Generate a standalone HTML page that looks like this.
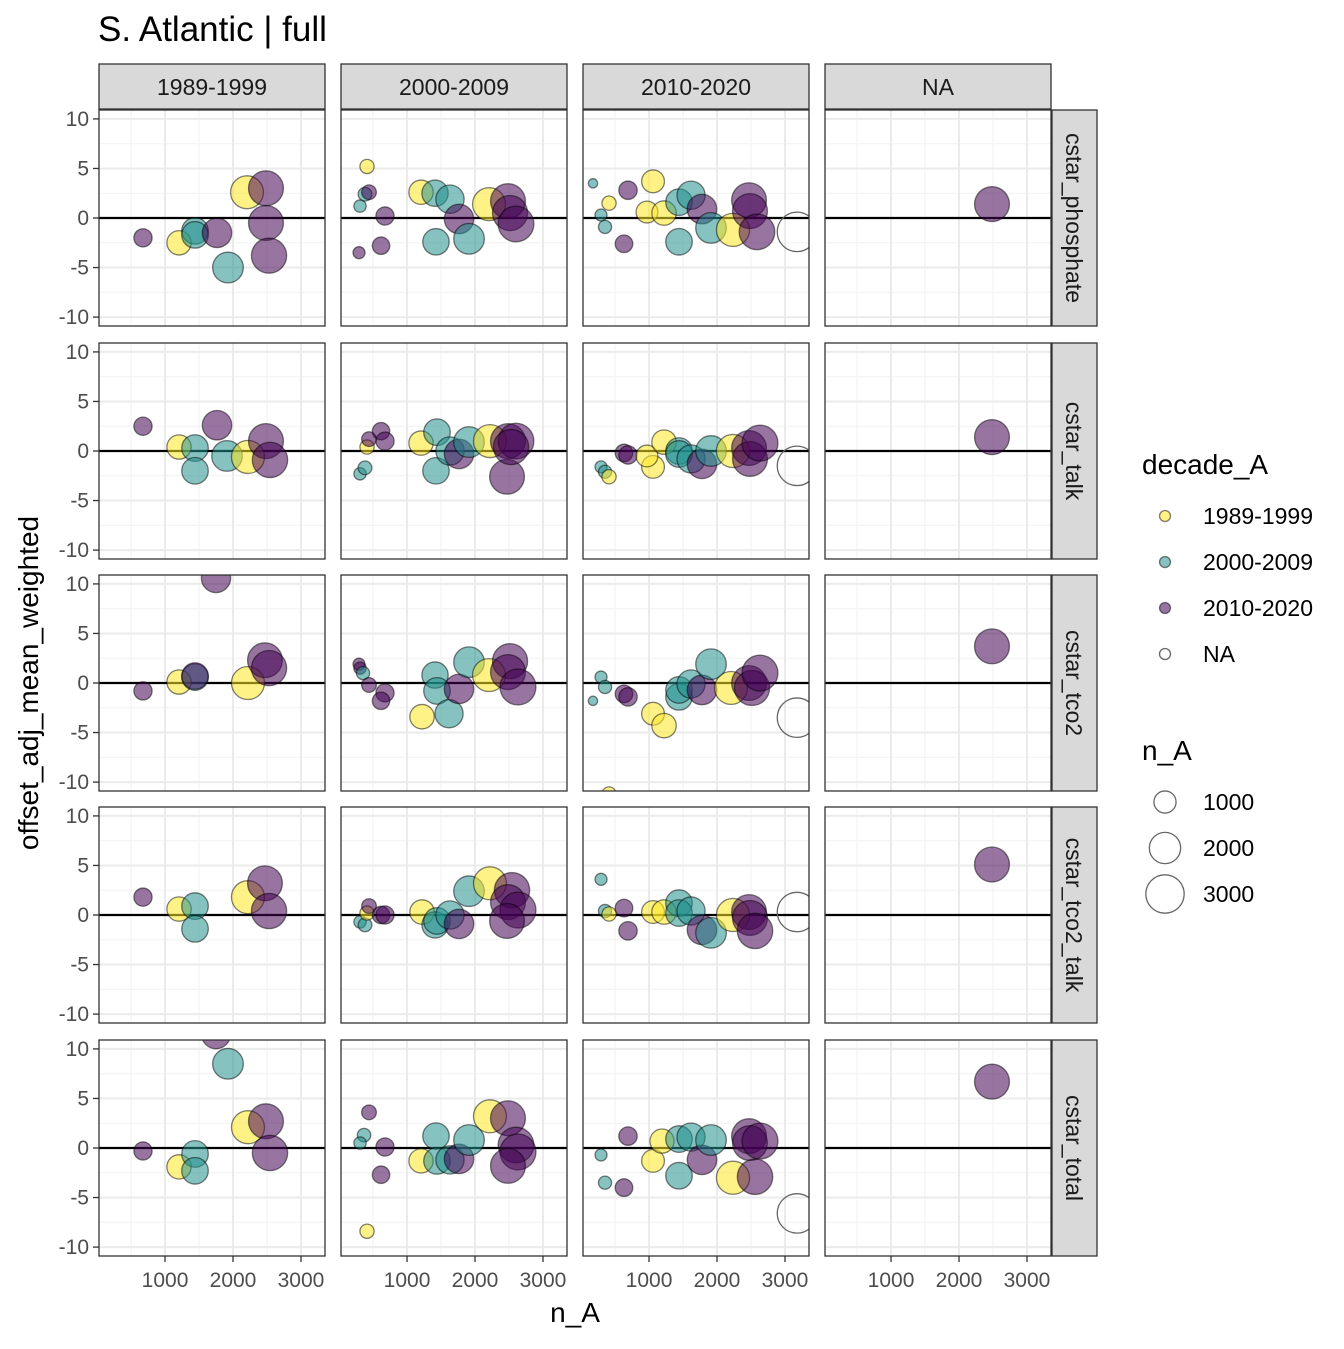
<!DOCTYPE html>
<html><head><meta charset="utf-8"><style>
body{margin:0;background:#fff}
svg text{font-family:"Liberation Sans",sans-serif}
</style></head><body>
<svg id="c" width="1344" height="1344" xmlns="http://www.w3.org/2000/svg">
<rect width="1344" height="1344" fill="#fff"/>
<text x="98" y="41" font-size="35" fill="#000">S. Atlantic | full</text>
</svg>
<script>
const colLabels=["1989-1999","2000-2009","2010-2020","NA"];
const rowLabels=["cstar_phosphate","cstar_talk","cstar_tco2","cstar_tco2_talk","cstar_total"];
const xTicks=[1000,2000,3000];
const yTicks=[-10,-5,0,5,10];
const decades=["1989-1999","2000-2009","2010-2020","NA"];
const sizeBreaks=[1000,2000,3000];
// points: [row, col, n_A, offset, decadeIndex]
const points=[
[0,0,676,-2.0,2],[0,0,1206,-2.5,0],[0,0,1441,-1.3,1],[0,0,1441,-1.7,1],[0,0,1765,-1.5,2],[0,0,1926,-5.0,1],[0,0,2206,2.6,0],[0,0,2485,3.0,2],[0,0,2485,-0.5,2],[0,0,2530,-3.8,2],
[0,1,412,5.2,0],[0,1,309,1.2,1],[0,1,382,2.4,1],[0,1,441,2.6,2],[0,1,294,-3.5,2],[0,1,676,0.2,2],[0,1,618,-2.8,2],[0,1,1206,2.6,0],[0,1,1412,2.5,1],[0,1,1632,1.9,1],[0,1,1426,-2.4,1],[0,1,1765,-0.1,2],[0,1,1912,-2.1,1],[0,1,2206,1.4,0],[0,1,2485,1.7,2],[0,1,2515,0.5,2],[0,1,2603,-0.6,2],
[0,2,176,3.5,1],[0,2,294,0.3,1],[0,2,353,-0.9,1],[0,2,412,1.5,0],[0,2,632,-2.6,2],[0,2,691,2.8,2],[0,2,1059,3.7,0],[0,2,970,0.6,0],[0,2,1221,0.5,0],[0,2,1441,-2.4,1],[0,2,1441,1.6,1],[0,2,1618,2.3,1],[0,2,1779,0.9,2],[0,2,1912,-1.0,1],[0,2,2235,-1.2,0],[0,2,2471,1.8,2],[0,2,2485,0.7,2],[0,2,2588,-1.4,2],[0,2,3176,-1.4,3],
[0,3,2485,1.4,2],
[1,0,676,2.5,2],[1,0,1206,0.4,0],[1,0,1441,0.3,1],[1,0,1441,-2.0,1],[1,0,1765,2.6,2],[1,0,1912,-0.5,1],[1,0,2220,-0.6,0],[1,0,2485,1.0,2],[1,0,2544,-0.9,2],
[1,1,309,-2.3,1],[1,1,382,-1.7,1],[1,1,412,0.4,0],[1,1,441,1.2,2],[1,1,618,2.0,2],[1,1,676,1.0,2],[1,1,1206,0.8,0],[1,1,1441,1.9,1],[1,1,1426,-2.0,1],[1,1,1632,0.0,1],[1,1,1765,-0.3,2],[1,1,1912,0.9,1],[1,1,2220,1.0,0],[1,1,2485,1.0,2],[1,1,2603,1.0,2],[1,1,2471,-2.6,2],[1,1,2530,0.4,2],
[1,2,294,-1.6,1],[1,2,353,-2.1,1],[1,2,412,-2.6,0],[1,2,632,-0.2,2],[1,2,691,-0.4,2],[1,2,1059,-1.6,0],[1,2,970,-0.5,0],[1,2,1221,0.9,0],[1,2,1441,0.0,1],[1,2,1441,-0.3,1],[1,2,1618,-0.8,1],[1,2,1779,-1.3,2],[1,2,1912,0.0,1],[1,2,2235,0.0,0],[1,2,2471,0.3,2],[1,2,2485,-0.8,2],[1,2,2632,0.8,2],[1,2,3176,-1.5,3],
[1,3,2485,1.4,2],
[2,0,676,-0.8,2],[2,0,1206,0.1,0],[2,0,1441,0.6,1],[2,0,1441,0.7,2],[2,0,1750,10.6,2],[2,0,2220,0.0,0],[2,0,2470,2.3,2],[2,0,2530,1.5,2],
[2,1,294,1.9,2],[2,1,309,1.5,2],[2,1,353,1.0,1],[2,1,441,-0.2,2],[2,1,676,-1.0,2],[2,1,618,-1.8,2],[2,1,1221,-3.4,0],[2,1,1412,0.8,1],[2,1,1441,-0.8,1],[2,1,1618,-3.1,1],[2,1,1765,-0.6,2],[2,1,1912,2.1,1],[2,1,2206,0.8,0],[2,1,2515,2.2,2],[2,1,2485,1.1,2],[2,1,2632,-0.4,2],
[2,2,176,-1.8,1],[2,2,294,0.6,1],[2,2,353,-0.4,1],[2,2,412,-11.2,0],[2,2,632,-1.1,2],[2,2,691,-1.4,2],[2,2,1059,-3.1,0],[2,2,1221,-4.3,0],[2,2,1441,-1.4,1],[2,2,1441,-0.7,1],[2,2,1618,-0.1,1],[2,2,1779,-0.7,2],[2,2,1912,1.9,1],[2,2,2206,-0.5,0],[2,2,2471,0.0,2],[2,2,2515,-0.5,2],[2,2,2632,1.0,2],[2,2,3176,-3.5,3],
[2,3,2485,3.7,2],
[3,0,676,1.8,2],[3,0,1206,0.6,0],[3,0,1441,0.9,1],[3,0,1441,-1.4,1],[3,0,2220,1.8,0],[3,0,2470,3.2,2],[3,0,2530,0.4,2],
[3,1,309,-0.7,1],[3,1,382,-1.0,1],[3,1,412,0.2,0],[3,1,441,0.9,2],[3,1,618,0.0,2],[3,1,676,0.0,2],[3,1,1221,0.3,0],[3,1,1412,-1.0,1],[3,1,1441,-0.6,1],[3,1,1632,0.0,1],[3,1,1765,-0.9,2],[3,1,1912,2.4,1],[3,1,2220,3.2,0],[3,1,2544,2.5,2],[3,1,2485,1.3,2],[3,1,2632,0.5,2],[3,1,2471,-0.6,2],
[3,2,294,3.6,1],[3,2,353,0.4,1],[3,2,412,0.1,0],[3,2,632,0.7,2],[3,2,691,-1.6,2],[3,2,1059,0.3,0],[3,2,1221,0.3,0],[3,2,1441,1.2,1],[3,2,1441,0.2,1],[3,2,1618,0.4,1],[3,2,1779,-1.5,2],[3,2,1912,-1.8,1],[3,2,2235,0.0,0],[3,2,2471,0.3,2],[3,2,2485,-0.3,2],[3,2,2559,-1.6,2],[3,2,3176,0.3,3],
[3,3,2485,5.1,2],
[4,0,676,-0.3,2],[4,0,1206,-1.9,0],[4,0,1441,-0.6,1],[4,0,1441,-2.3,1],[4,0,1750,11.5,2],[4,0,1926,8.5,1],[4,0,2220,2.1,0],[4,0,2485,2.7,2],[4,0,2544,-0.5,2],
[4,1,412,-8.4,0],[4,1,441,3.6,2],[4,1,368,1.3,1],[4,1,309,0.5,1],[4,1,676,0.1,2],[4,1,618,-2.7,2],[4,1,1206,-1.3,0],[4,1,1426,1.2,1],[4,1,1441,-1.3,1],[4,1,1632,-1.2,1],[4,1,1765,-1.1,2],[4,1,1912,0.8,1],[4,1,2220,3.2,0],[4,1,2485,3.0,2],[4,1,2603,0.3,2],[4,1,2632,-0.4,2],[4,1,2485,-1.8,2],
[4,2,294,-0.7,1],[4,2,353,-3.5,1],[4,2,632,-4.0,2],[4,2,691,1.2,2],[4,2,1059,-1.3,0],[4,2,1191,0.7,0],[4,2,1441,-2.8,1],[4,2,1441,0.9,1],[4,2,1618,1.1,1],[4,2,1779,-1.2,2],[4,2,1912,0.8,1],[4,2,2235,-3.0,0],[4,2,2471,1.2,2],[4,2,2485,0.5,2],[4,2,2632,0.7,2],[4,2,2559,-2.9,2],[4,2,3176,-6.6,3],
[4,3,2485,6.7,2]
];
const NS="http://www.w3.org/2000/svg",svg=document.getElementById('c');
function el(t,a,p){const e=document.createElementNS(NS,t);for(const k in a)e.setAttribute(k,a[k]);(p||svg).appendChild(e);return e;}
const colX=[99,341,583,825],pw=226,rowY=[110,343,575,807,1040],ph=216;
const xMin=29,xMax=3353,yMin=-10.9,yMax=10.9;
const fills=["#FDE725","#21908C","#440154","none"];
function xs(c,v){return colX[c]+(v-xMin)/(xMax-xMin)*pw;}
function ys(r,v){return rowY[r]+(yMax-v)/(yMax-yMin)*ph;}
function rad(n){return 0.35*Math.sqrt(n);}
for(let r=0;r<5;r++)for(let c=0;c<4;c++){
 const g=el('g',{});
 
 
 el('rect',{x:colX[c],y:rowY[r],width:pw,height:ph,fill:'#fff'},g);
 const cp=el('clipPath',{id:'cp'+r+c},g);el('rect',{x:colX[c],y:rowY[r],width:pw,height:ph},cp);
 [500,1500,2500].forEach(v=>el('line',{x1:xs(c,v),x2:xs(c,v),y1:rowY[r],y2:rowY[r]+ph,stroke:'#f2f2f2','stroke-width':1},g));
 [-7.5,-2.5,2.5,7.5].forEach(v=>el('line',{x1:colX[c],x2:colX[c]+pw,y1:ys(r,v),y2:ys(r,v),stroke:'#f2f2f2','stroke-width':1},g));
 xTicks.forEach(v=>el('line',{x1:xs(c,v),x2:xs(c,v),y1:rowY[r],y2:rowY[r]+ph,stroke:'#ebebeb','stroke-width':2},g));
 yTicks.forEach(v=>el('line',{x1:colX[c],x2:colX[c]+pw,y1:ys(r,v),y2:ys(r,v),stroke:'#ebebeb','stroke-width':2},g));
 const z=el('line',{x1:colX[c],x2:colX[c]+pw,y1:ys(r,0),y2:ys(r,0),stroke:'#000','stroke-width':2.2},g);
 
 const pg=el('g',{'clip-path':'url(#cp'+r+c+')'},g);
 points.filter(p=>p[0]===r&&p[1]===c).forEach(p=>{
  const d=p[4];
  const ci=el('circle',{cx:xs(c,p[2]),cy:ys(r,p[3]),r:rad(p[2]),fill:fills[d],'fill-opacity':0.55,stroke:d===3?'#666':'#000','stroke-opacity':d===3?1:0.5,'stroke-width':1.3},pg);
  
  
 });
 el('rect',{x:colX[c],y:rowY[r],width:pw,height:ph,fill:'none',stroke:'#333','stroke-width':1.3},g);
}
colLabels.forEach((l,c)=>{
 const s=el('rect',{x:colX[c],y:64,width:pw,height:45,fill:'#d9d9d9',stroke:'#333','stroke-width':1.3});
 
 const t=el('text',{x:colX[c]+pw/2,y:95,'font-size':23,'text-anchor':'middle',fill:'#1a1a1a'});t.textContent=l;
 
});
rowLabels.forEach((l,r)=>{
 const s=el('rect',{x:1052,y:rowY[r],width:45,height:ph,fill:'#d9d9d9',stroke:'#333','stroke-width':1.3});
 
 const cy=rowY[r]+ph/2;
 const t=el('text',{x:1066,y:cy,'font-size':23,'text-anchor':'middle',fill:'#1a1a1a',transform:'rotate(90 1066 '+cy+')'});t.textContent=l;
 
 yTicks.forEach(v=>{
  el('line',{x1:93,x2:99,y1:ys(r,v),y2:ys(r,v),stroke:'#333','stroke-width':1.3});
  const tt=el('text',{x:89,y:ys(r,v)+7,'font-size':21,'text-anchor':'end',fill:'#4d4d4d'});tt.textContent=v;
  
 });
});
colLabels.forEach((l,c)=>xTicks.forEach(v=>{
 el('line',{x1:xs(c,v),x2:xs(c,v),y1:1256,y2:1262,stroke:'#333','stroke-width':1.3});
 const t=el('text',{x:xs(c,v),y:1287,'font-size':21,'text-anchor':'middle',fill:'#4d4d4d'});t.textContent=v;
 
}));
let t=el('text',{x:575,y:1322,'font-size':28,'text-anchor':'middle'});t.textContent='n_A';

t=el('text',{x:38,y:683,'font-size':28,'text-anchor':'middle',transform:'rotate(-90 38 683)'});t.textContent='offset_adj_mean_weighted';

t=el('text',{x:1142,y:474,'font-size':28});t.textContent='decade_A';

decades.forEach((d,i)=>{
 const y=516+46*i;
 const c=el('circle',{cx:1165,cy:y,r:5.5,fill:fills[i],'fill-opacity':0.55,stroke:i===3?'#666':'#000','stroke-opacity':i===3?1:0.5,'stroke-width':1.3});
 
 const tt=el('text',{x:1203,y:y+8,'font-size':23});tt.textContent=d;
 
});
t=el('text',{x:1142,y:760,'font-size':28});t.textContent='n_A';

sizeBreaks.forEach((n,i)=>{
 const y=802+46*i;
 const c=el('circle',{cx:1165,cy:y,r:rad(n),fill:'none',stroke:'#666','stroke-width':1.3});
 
 const tt=el('text',{x:1203,y:y+8,'font-size':23});tt.textContent=n;
 
});
</script>
</body></html>
